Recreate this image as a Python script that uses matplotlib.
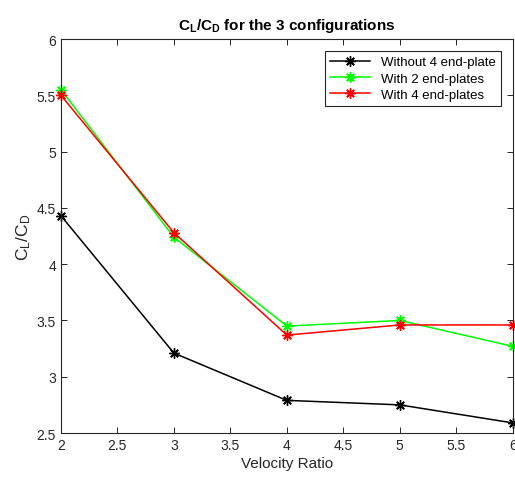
import matplotlib
matplotlib.use('Agg')
from matplotlib import pyplot as plt

plt.rcParams['font.family'] = ['Liberation Sans', 'DejaVu Sans']
plt.rcParams['mathtext.default'] = 'regular'

velocity_ratio = [2, 3, 4, 5, 6]
without_plates = [4.43, 3.21, 2.79, 2.75, 2.59]
with_2_plates = [5.55, 4.24, 3.45, 3.50, 3.27]
with_4_plates = [5.50, 4.28, 3.37, 3.46, 3.46]

labels = ['Without 4 end-plate', 'With 2 end-plates', 'With 4 end-plates']
colors = ['black', '#00ff00', '#ff0000']

fig = plt.figure(figsize=(5.15, 4.81), dpi=100)
ax = fig.add_axes([0.1184, 0.0977, 0.877, 0.819])

# MATLAB-style asterisk marker (8 arms)
for series, label, color in zip([without_plates, with_2_plates, with_4_plates], labels, colors):
	ax.plot(velocity_ratio, series, color=color, marker=(8, 2, 0), markersize=7.5,
			markeredgewidth=1.0, linewidth=1.1, label=label, clip_on=False)

ax.set_xlim(2, 6)
ax.set_ylim(2.5, 6)
ax.set_xticks([2, 2.5, 3, 3.5, 4, 4.5, 5, 5.5, 6])
ax.set_xticklabels(['2', '2.5', '3', '3.5', '4', '4.5', '5', '5.5', '6'])
ax.set_yticks([2.5, 3, 3.5, 4, 4.5, 5, 5.5, 6])
ax.set_yticklabels(['2.5', '3', '3.5', '4', '4.5', '5', '5.5', '6'])
ax.tick_params(direction='in', top=True, right=True, labelsize=10, colors='#262626',
			   labelcolor='#262626', length=4, width=0.7)
for spine in ax.spines.values():
	spine.set_color('#262626')
	spine.set_linewidth(0.8)

ax.set_xlabel('Velocity Ratio', fontsize=11, color='#262626', labelpad=3)
ax.set_ylabel('C$_L$/C$_D$', fontsize=12.5, color='#262626', labelpad=3)
ax.set_title('C$_L$/C$_D$ for the 3 configurations', fontsize=11, fontweight='bold', pad=7)

leg = ax.legend(loc='upper right', fontsize=9.5, fancybox=False, edgecolor='#262626',
				framealpha=1, handlelength=3, borderaxespad=0.9, labelspacing=0.3)
leg.get_frame().set_linewidth(0.8)

fig.savefig('out.png', dpi=100)
